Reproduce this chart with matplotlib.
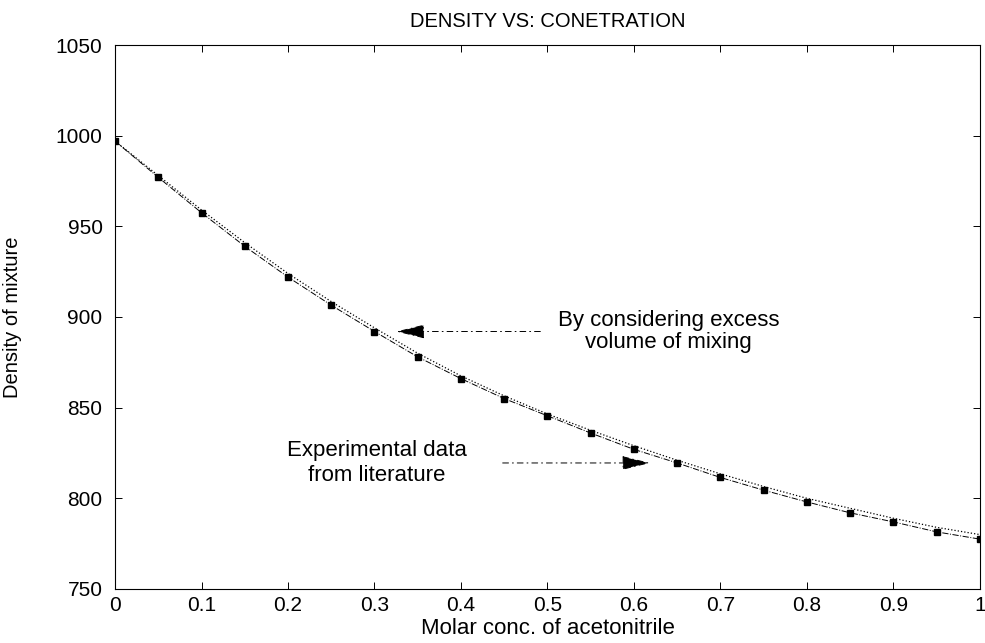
import matplotlib.pyplot as plt

plt.rcParams["font.family"] = ["Liberation Sans", "DejaVu Sans"]

# mole fraction of acetonitrile
conc = [0.0, 0.05, 0.1, 0.15, 0.2, 0.25, 0.3, 0.35, 0.4, 0.45, 0.5,
        0.55, 0.6, 0.65, 0.7, 0.75, 0.8, 0.85, 0.9, 0.95, 1.0]
# literature densities
density_exp = [997, 977, 957.5, 939, 922, 906.5, 892, 878, 866, 855, 845.5,
               836, 827, 819.5, 811.5, 804.5, 798, 792, 787, 781.5, 777.5]
# densities computed with excess volume of mixing
density_calc = [997, 978, 959, 941, 924, 908.5, 894, 880, 867.5, 856.5, 846.5,
                837.5, 829, 821, 813.5, 806.5, 800, 794.5, 789, 784, 780]

xticks = [0, 0.1, 0.2, 0.3, 0.4, 0.5, 0.6, 0.7, 0.8, 0.9, 1]
xticklabels = ["0", "0.1", "0.2", "0.3", "0.4", "0.5", "0.6", "0.7", "0.8", "0.9", "1"]
yticks = [750, 800, 850, 900, 950, 1000, 1050]

fig = plt.figure(figsize=(9.85, 6.43), dpi=100)
ax = fig.add_axes([0.1168, 0.084, 0.878, 0.846])

ax.plot(conc, density_calc, color="black", linestyle=":", linewidth=0.9)
ax.plot(conc, density_exp, color="black", linestyle="-.", linewidth=0.7,
        marker="s", markersize=5)

ax.set_xlim(0, 1)
ax.set_ylim(750, 1050)
ax.set_xticks(xticks)
ax.set_xticklabels(xticklabels)
ax.set_yticks(yticks)
ax.tick_params(direction="in", length=5, width=0.7, labelsize=15, top=True, right=True)
ax.tick_params(axis="y", pad=9)
ax.tick_params(axis="x", pad=5)
for s in ax.spines.values():
    s.set_linewidth(0.8)

ax.set_title("DENSITY VS: CONETRATION", fontsize=14.5, pad=13)
ax.set_xlabel("Molar conc. of acetonitrile", fontsize=16, labelpad=2)
ax.set_ylabel("Density of mixture", fontsize=14.5)
ax.yaxis.set_label_coords(-0.108, 0.5)

arrow_style = dict(arrowstyle="-|>,head_length=0.9,head_width=0.22", color="black",
                   lw=0.7, linestyle=(0, (6, 4, 1, 4)), mutation_scale=20)

ax.annotate("", xy=(0.322, 892), xytext=(0.495, 892), arrowprops=arrow_style)
ax.text(0.64, 892, "By considering excess\nvolume of mixing", fontsize=16,
        ha="center", va="center", linespacing=1.1)

ax.annotate("", xy=(0.622, 819.5), xytext=(0.445, 819.5), arrowprops=arrow_style)
ax.text(0.303, 819.5, "Experimental data\nfrom literature", fontsize=16,
        ha="center", va="center", linespacing=1.25)

fig.savefig("out.png", dpi=100)
